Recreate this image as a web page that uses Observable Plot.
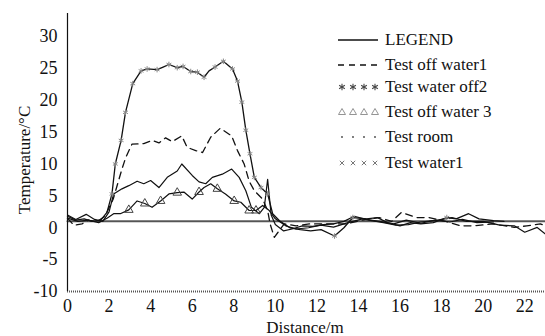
<!DOCTYPE html>
<html>
<head>
<meta charset="utf-8">
<script src="https://cdn.jsdelivr.net/npm/d3@7"></script>
<script src="https://cdn.jsdelivr.net/npm/@observablehq/plot@0.6"></script>
<style>
  html, body { margin: 0; padding: 0; background: #fff; }
  #wrap { position: relative; width: 545px; height: 336px; font-family: "Liberation Serif", "Times New Roman", serif; color: #111; }
  #legend { position: absolute; left: 0; top: 0; }
  .row { position: absolute; left: 337px; height: 20px; display: flex; align-items: center; font-size: 17px; white-space: nowrap; }
  .row svg { margin-right: 6px; }
  .axlab { position: absolute; font-size: 17px; white-space: nowrap; }
</style>
</head>
<body>
<div id="wrap"></div>
<script>
// ---- data ----
const xTicks = [0, 2, 4, 6, 8, 10, 12, 14, 16, 18, 20, 22];
const yTicks = [-10, -5, 0, 5, 10, 15, 20, 25, 30];

const seriesNames = ["LEGEND", "Test off water1", "Test water off2", "Test off water 3", "Test room", "Test water1"];

// solid curve, peak ~10
const distLegend = [0, 0.4, 0.9, 1.3, 1.7, 2.0, 2.22, 2.62, 2.95, 3.35, 3.67, 4.0, 4.4, 4.8, 5.28, 5.5, 6.0, 6.33, 6.65, 6.97, 7.45, 7.9, 8.26, 8.58, 8.85, 9.23, 9.47, 9.63, 9.8, 10.0, 10.4, 10.8, 11.3, 11.8, 12.3, 12.8, 13.3, 13.8, 14.5, 15.2, 15.8, 16.4, 17.0, 17.8, 18.5, 19.2, 20.0, 20.8, 21.5, 22.0, 22.6, 23];
const tempLegend = [2.0, 1.3, 2.1, 1.3, 1.0, 2.5, 5.3, 6.1, 6.6, 7.3, 6.9, 7.4, 6.3, 7.9, 8.9, 10.0, 8.2, 7.2, 6.9, 7.9, 8.4, 9.2, 7.9, 5.8, 3.2, 2.2, 3.2, 7.6, 2.0, 0.5, -0.5, -0.2, 0.3, 0.2, 0.5, 0.6, 1.0, 1.8, 1.2, 0.8, 0.4, 0.5, 0.9, 1.2, 1.6, 1.0, 1.0, 0.4, 0.3, -0.7, 0.05, -1.0];

// dashed curve, peak ~16
const distOff1 = [0, 0.3, 0.7, 1.0, 1.4, 1.8, 2.2, 2.62, 2.8, 3.1, 3.67, 4.07, 4.4, 4.72, 5.04, 5.5, 5.76, 6.17, 6.5, 6.89, 7.35, 7.9, 8.18, 8.5, 8.74, 8.99, 9.39, 9.63, 9.75, 9.95, 10.43, 11.0, 11.64, 12.45, 13.4, 14.2, 15.0, 15.6, 16.07, 16.8, 17.4, 18.2, 18.9, 19.5, 20.5, 21.5, 22.1, 22.75, 23];
const tempOff1 = [1.5, 0.4, 0.6, 1.2, 0.9, 1.8, 4.5, 9.2, 11.0, 13.1, 13.2, 13.7, 13.3, 14.1, 13.5, 14.4, 12.6, 12.1, 11.8, 14.2, 15.6, 14.4, 12.1, 10.0, 7.3, 5.8, 4.5, 2.7, 0.6, -1.5, 0.6, 0.3, 0.6, 0.6, 0.6, 1.2, 1.6, 1.0, 2.4, 1.6, 1.6, 1.0, 0.3, 0.3, 0.6, 0.05, 0.3, 0.6, 0.3];

// top curve, peak ~26, asterisk markers
const distOff2 = [0, 0.4, 0.8, 1.2, 1.6, 1.9, 2.14, 2.3, 2.58, 2.79, 3.14, 3.54, 3.83, 4.31, 4.6, 4.88, 5.28, 5.56, 5.93, 6.25, 6.57, 6.81, 7.1, 7.5, 7.94, 8.18, 8.39, 8.58, 8.78, 8.99, 9.31, 9.63, 9.87, 10.2, 10.7, 11.2, 11.7, 12.2, 12.85, 13.3, 13.73, 14.4, 14.9, 15.4, 16.0, 16.5, 17.0, 17.6, 18.25, 18.7, 19.3, 19.8, 20.5, 21.0];
const tempOff2 = [1.8, 1.2, 1.4, 1.0, 1.2, 2.4, 5.3, 10.0, 13.7, 18.1, 22.6, 24.6, 24.9, 24.8, 25.2, 25.6, 25.1, 25.3, 24.5, 24.4, 23.6, 24.6, 25.2, 26.1, 24.9, 23.0, 19.7, 15.3, 11.6, 7.9, 6.3, 5.3, 2.2, 1.1, 0.0, -0.3, -0.5, -0.3, -1.3, 0.0, 1.6, 1.4, 1.6, 0.8, 0.3, 0.8, 0.6, 0.8, 1.6, 1.4, 2.2, 1.4, 1.1, 1.0];
const markOff2 = [2.14, 2.3, 2.58, 2.79, 3.14, 3.54, 3.83, 4.31, 4.88, 5.28, 5.56, 5.93, 6.25, 6.57, 7.1, 7.5, 7.94, 8.18, 8.39, 8.58, 8.78, 8.99, 9.31, 9.63, 12.85, 13.73, 18.25];

// solid curve with triangles, peak ~7
const distOff3 = [0, 0.5, 1.0, 1.5, 1.9, 2.22, 2.54, 2.95, 3.35, 3.72, 4.07, 4.48, 4.88, 5.28, 5.6, 6.0, 6.33, 6.57, 6.89, 7.21, 7.6, 8.02, 8.34, 8.74, 9.07, 9.39, 9.71, 10.0, 10.5, 11.0, 11.6, 12.2, 12.8, 13.5, 14.2, 15.0, 15.7, 16.3, 17.0, 17.7, 18.4, 19.0, 19.7, 20.5];
const tempOff3 = [1.5, 1.0, 1.2, 0.8, 1.5, 2.2, 2.2, 2.8, 4.2, 3.8, 3.2, 4.2, 5.3, 5.5, 5.6, 4.5, 5.6, 6.3, 6.9, 6.1, 5.3, 4.2, 4.0, 2.7, 2.7, 3.5, 2.7, 1.4, 0.3, -0.2, 0.0, 0.4, 0.1, 0.8, 1.4, 1.0, 0.6, 1.2, 0.7, 1.2, 0.9, 1.3, 0.8, 0.9];
const markOff3 = [2.95, 3.72, 4.48, 5.28, 6.33, 7.21, 8.02, 8.74, 9.07];

// room reference
const distRoom = [0, 23];
const tempRoom = [1.0, 1.0];

// ---- build tables ----
const toRows = (name, xs, ys) => xs.map((x, i) => ({series: name, x, y: ys[i]}));
const rowsLegend = toRows(seriesNames[0], distLegend, tempLegend);
const rowsOff1 = toRows(seriesNames[1], distOff1, tempOff1);
const rowsOff2 = toRows(seriesNames[2], distOff2, tempOff2);
const rowsOff3 = toRows(seriesNames[3], distOff3, tempOff3);
const rowsRoom = toRows(seriesNames[4], distRoom, tempRoom);
const marksOff2 = rowsOff2.filter(d => markOff2.includes(d.x));
const marksOff3 = rowsOff3.filter(d => markOff3.includes(d.x));

const chart = Plot.plot({
  width: 545,
  height: 336,
  marginLeft: 67,
  marginRight: 0,
  marginTop: 13,
  marginBottom: 45,
  style: {fontFamily: "'Liberation Serif', 'Times New Roman', serif", background: "white", color: "#111"},
  x: {domain: [0, 23]},
  y: {domain: [-10, 33.6]},
  marks: [
    Plot.ruleY([-10], {stroke: "#555", strokeWidth: 2, strokeDasharray: "1,1"}),
    Plot.line(rowsRoom, {x: "x", y: "y", stroke: "#555", strokeWidth: 2, strokeDasharray: "1,1"}),
    Plot.ruleX([0], {y1: -10, y2: 33.6, stroke: "#111", strokeWidth: 1.2}),
    Plot.line(rowsOff3, {x: "x", y: "y", stroke: "#111", strokeWidth: 1.2}),
    Plot.line(rowsLegend, {x: "x", y: "y", stroke: "#111", strokeWidth: 1.2}),
    Plot.line(rowsOff1, {x: "x", y: "y", stroke: "#111", strokeWidth: 1.3, strokeDasharray: "7,5"}),
    Plot.line(rowsOff2, {x: "x", y: "y", stroke: "#111", strokeWidth: 1.3}),
    Plot.dot(marksOff2, {x: "x", y: "y", symbol: "asterisk", r: 2.6, stroke: "#888", strokeWidth: 1}),
    Plot.dot(marksOff3, {x: "x", y: "y", symbol: "triangle", r: 3.2, stroke: "#444", fill: "none", strokeWidth: 1}),
    Plot.axisX({ticks: xTicks, tickSize: 0, tickPadding: 8, fontSize: 18, label: null, tickFormat: d => String(d)}),
    Plot.axisY({ticks: yTicks, tickSize: 0, tickPadding: 10, fontSize: 18, label: null, tickFormat: d => String(d)})
  ]
});

const wrap = document.getElementById("wrap");
wrap.appendChild(chart);

// axis titles
const xl = document.createElement("div");
xl.className = "axlab";
xl.textContent = "Distance/m";
xl.style.left = "305px"; xl.style.top = "328px";
xl.style.transform = "translate(-50%, -50%)";
wrap.appendChild(xl);
const yl = document.createElement("div");
yl.className = "axlab";
yl.textContent = "Temperature/°C";
yl.style.left = "25px"; yl.style.top = "160px";
yl.style.transform = "translate(-50%, -50%) rotate(-90deg)";
wrap.appendChild(yl);

// legend
const legendRows = [
  {name: seriesNames[0], y: 40, kind: "solid"},
  {name: seriesNames[1], y: 65, kind: "dash"},
  {name: seriesNames[2], y: 87, kind: "asterisk"},
  {name: seriesNames[3], y: 112, kind: "triangle"},
  {name: seriesNames[4], y: 137, kind: "dot"},
  {name: seriesNames[5], y: 163, kind: "times"}
];
const ns = "http://www.w3.org/2000/svg";
for (const r of legendRows) {
  const row = document.createElement("div");
  row.className = "row";
  row.style.top = (r.y - 10) + "px";
  const svg = document.createElementNS(ns, "svg");
  svg.setAttribute("width", 42); svg.setAttribute("height", 14);
  const add = (tag, attrs) => { const e = document.createElementNS(ns, tag); for (const k in attrs) e.setAttribute(k, attrs[k]); svg.appendChild(e); };
  if (r.kind === "solid") add("line", {x1: 1, x2: 41, y1: 7, y2: 7, stroke: "#111", "stroke-width": 1.3});
  if (r.kind === "dash") add("line", {x1: 1, x2: 41, y1: 7, y2: 7, stroke: "#111", "stroke-width": 1.6, "stroke-dasharray": "6,5"});
  for (let i = 0; i < 4; i++) {
    const cx = 5 + i * 11;
    if (r.kind === "asterisk") {
      for (const a of [0, 60, 120]) {
        const rad = a * Math.PI / 180;
        add("line", {x1: cx - 3.3 * Math.sin(rad), y1: 7 - 3.3 * Math.cos(rad), x2: cx + 3.3 * Math.sin(rad), y2: 7 + 3.3 * Math.cos(rad), stroke: "#444", "stroke-width": 1.1});
      }
    }
    if (r.kind === "triangle") add("path", {d: `M${cx},${3.5}L${cx + 3.5},${9.5}L${cx - 3.5},${9.5}Z`, fill: "none", stroke: "#888", "stroke-width": 0.9});
    if (r.kind === "dot") add("circle", {cx: cx, cy: 7, r: 0.9, fill: "#444"});
    if (r.kind === "times") {
      add("line", {x1: cx - 2.2, y1: 4.8, x2: cx + 2.2, y2: 9.2, stroke: "#777", "stroke-width": 1});
      add("line", {x1: cx - 2.2, y1: 9.2, x2: cx + 2.2, y2: 4.8, stroke: "#777", "stroke-width": 1});
    }
  }
  row.appendChild(svg);
  const t = document.createElement("span");
  t.textContent = r.name;
  row.appendChild(t);
  wrap.appendChild(row);
}
</script>
</body>
</html>
